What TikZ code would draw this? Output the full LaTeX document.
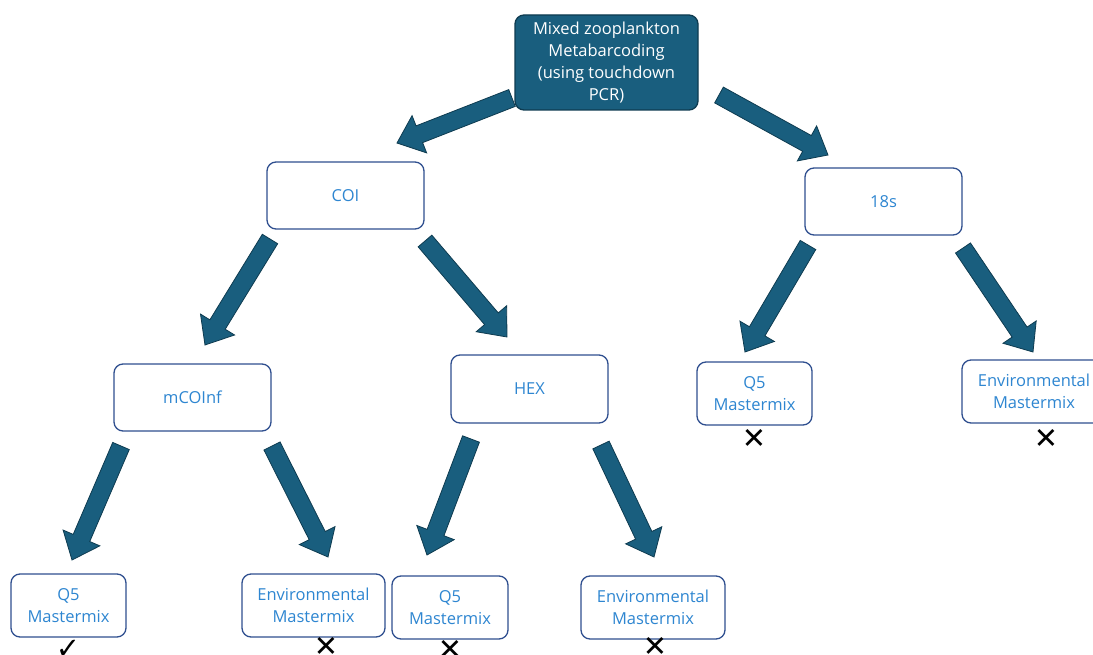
\documentclass[tikz,border=0pt]{standalone}
\usepackage{fontspec}
\setmainfont{Open Sans}
\newfontfamily\symfont{DejaVu Sans}
\usetikzlibrary{calc}
\definecolor{boxline}{HTML}{2F4F8F}
\definecolor{txtblue}{HTML}{2E86D1}
\definecolor{arrowfill}{HTML}{195E7E}
\definecolor{arrowline}{HTML}{0E3B50}
\tikzset{
  box/.style={draw=boxline, line width=1.3pt, rounded corners=9pt, fill=white,
    text=txtblue, align=center, font=\fontsize{16.5}{22}\selectfont, inner sep=0pt},
  topbox/.style={box, fill=arrowfill, draw=arrowline, text=white},
  blockarrow/.style={fill=arrowfill, draw=arrowline, line width=0.8pt, line join=miter},
  tickmark/.style={font=\symfont\bfseries\fontsize{29}{29}\selectfont, text=black, inner sep=0pt}
}
\newcommand{\fatarrow}[2]{%
  \coordinate (fa-h) at ($(#2)!24pt!(#1)$);
  \draw[blockarrow] ($(#1)!9pt!90:(#2)$) -- ($(fa-h)!9pt!90:(#2)$) -- ($(fa-h)!20pt!90:(#2)$)
    -- (#2) -- ($(fa-h)!20pt!-90:(#2)$) -- ($(fa-h)!9pt!-90:(#2)$) -- ($(#1)!9pt!-90:(#2)$) -- cycle;}
\begin{document}
\begin{tikzpicture}[x=1pt,y=-1pt]
\useasboundingbox (0,0) rectangle (1093,655);
% nodes
\node[topbox, minimum width=183pt, minimum height=95pt] (top) at (606.5,62.5)
  {Mixed zooplankton\\Metabarcoding\\(using touchdown\\PCR)};
\node[box, minimum width=157pt, minimum height=67pt] (coi) at (345.5,195.5) {COI};
\node[box, minimum width=157pt, minimum height=67pt] (s18) at (883.5,201.5) {18s};
\node[box, minimum width=157pt, minimum height=67pt] (mcoi) at (192.5,397.5) {mCOInf};
\node[box, minimum width=157pt, minimum height=68pt] (hex) at (529.5,389) {HEX};
\node[box, minimum width=115pt, minimum height=63pt] (q5s) at (754.5,393.5) {Q5\\Mastermix};
\node[box, minimum width=144pt, minimum height=63pt] (envs) at (1034,391.5) {Environmental\\Mastermix};
\node[box, minimum width=115pt, minimum height=63pt] (q5m) at (68.5,605.5) {Q5\\Mastermix};
\node[box, minimum width=143pt, minimum height=63pt] (envm) at (313.5,605.5) {Environmental\\Mastermix};
\node[box, minimum width=116pt, minimum height=63pt] (q5h) at (450,607.5) {Q5\\Mastermix};
\node[box, minimum width=144pt, minimum height=63pt] (envh) at (653,607.5) {Environmental\\Mastermix};
% result marks
\node[tickmark] (mk1) at (68,649) {✓};
\node[tickmark] (mk2) at (326,647) {✕};
\node[tickmark] (mk3) at (450,650) {✕};
\node[tickmark] (mk4) at (655,647) {✕};
\node[tickmark] (mk5) at (754,439) {✕};
\node[tickmark] (mk6) at (1046,439) {✕};
% arrow end points
\coordinate (a1s) at (512,98);  \coordinate (a1e) at (397,143);
\coordinate (a2s) at (719,95);  \coordinate (a2e) at (828,155);
\coordinate (a3s) at (270,239); \coordinate (a3e) at (205,345);
\coordinate (a4s) at (425,241); \coordinate (a4e) at (507,337);
\coordinate (a5s) at (808,245); \coordinate (a5e) at (745,352);
\coordinate (a6s) at (963,248); \coordinate (a6e) at (1033,352);
\coordinate (a7s) at (121,446); \coordinate (a7e) at (72,560);
\coordinate (a8s) at (272,446); \coordinate (a8e) at (328,557);
\coordinate (a9s) at (471,439); \coordinate (a9e) at (427,555);
\coordinate (a10s) at (601,445); \coordinate (a10e) at (654,557);
\fatarrow{a1s}{a1e}
\fatarrow{a2s}{a2e}
\fatarrow{a3s}{a3e}
\fatarrow{a4s}{a4e}
\fatarrow{a5s}{a5e}
\fatarrow{a6s}{a6e}
\fatarrow{a7s}{a7e}
\fatarrow{a8s}{a8e}
\fatarrow{a9s}{a9e}
\fatarrow{a10s}{a10e}
\end{tikzpicture}
\end{document}
